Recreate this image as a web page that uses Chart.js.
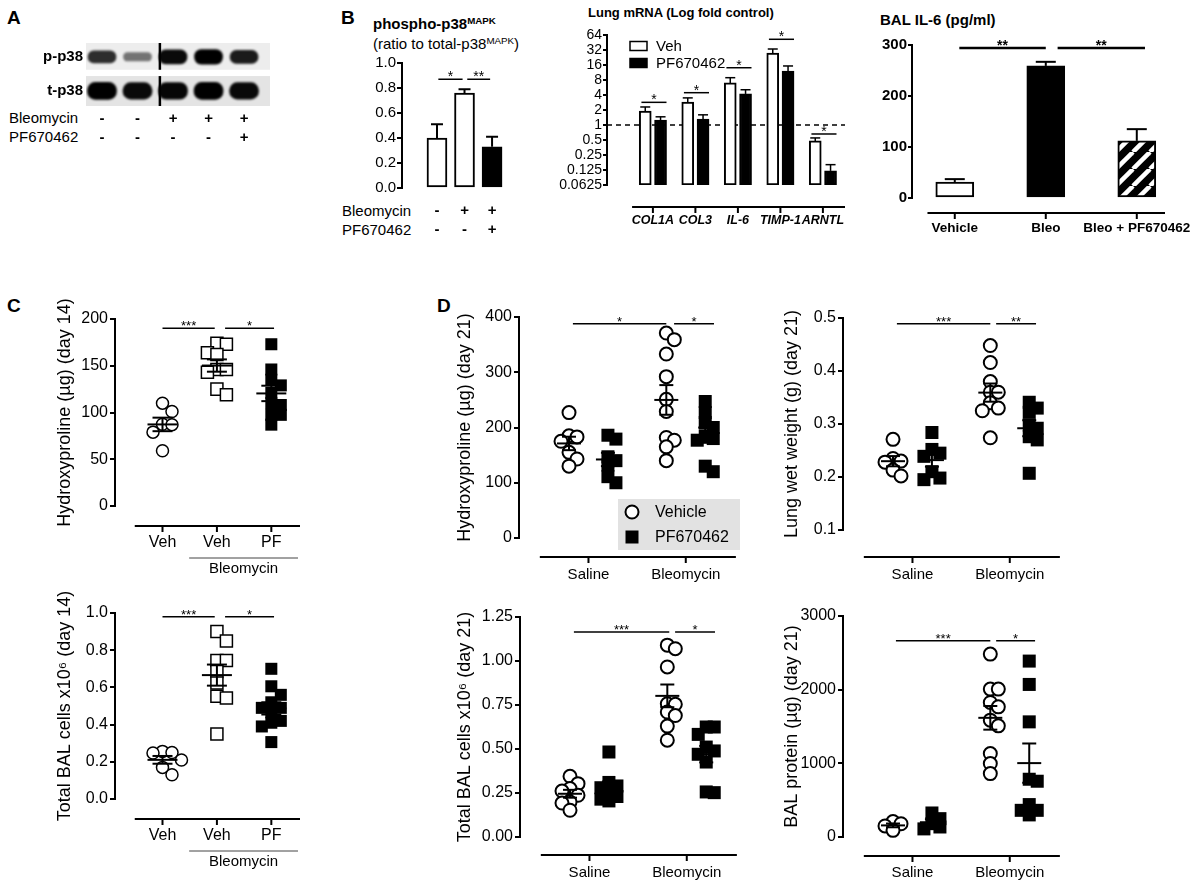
<!DOCTYPE html>
<html>
<head>
<meta charset="utf-8">
<title>p38 / PF670462 figure</title>
<script src="https://cdn.jsdelivr.net/npm/chart.js@4.4.1/dist/chart.umd.min.js"></script>
<style>
  body { margin: 0; background: #fff; }
  #fig { position: relative; width: 1200px; height: 887px; overflow: hidden; background: #fff;
         font-family: "Liberation Sans", Arial, Helvetica, sans-serif; color: #000; }
  #fig canvas { position: absolute; }
  .lab { position: absolute; white-space: nowrap; line-height: 18px; font-size: 15px; }
  .panel { position: absolute; font-weight: bold; font-size: 19px; }
  .ttl { position: absolute; white-space: nowrap; font-weight: bold; }
  sup { font-size: 65%; vertical-align: 0; position: relative; top: -0.5em; }
</style>
</head>
<body>
<div id="fig">
  <div class="panel" style="left:7px;top:7px">A</div>
  <div class="panel" style="left:341px;top:7px">B</div>
  <div class="panel" style="left:7px;top:295px">C</div>
  <div class="panel" style="left:437px;top:295px">D</div>

  <div class="lab" style="left:9px;top:109px">Bleomycin</div>
  <div class="lab" style="left:9px;top:128px">PF670462</div>
  <div class="lab" style="left:342px;top:202px">Bleomycin</div>
  <div class="lab" style="left:342px;top:221px">PF670462</div>

  <div class="ttl" style="left:373px;top:15px;font-size:15px">phospho-p38<sup>MAPK</sup></div>
  <div class="ttl" style="left:373px;top:35px;font-size:15px;font-weight:normal">(ratio to total-p38<sup>MAPK</sup>)</div>
  <div class="ttl" style="left:588px;top:5px;font-size:13px">Lung mRNA (Log fold control)</div>
  <div class="ttl" style="left:880px;top:11px;font-size:15px">BAL IL-6 (pg/ml)</div>

  <canvas id="cA"></canvas>
  <canvas id="cB1"></canvas>
  <canvas id="cB2"></canvas>
  <canvas id="cB3"></canvas>
  <canvas id="cC1"></canvas>
  <canvas id="cC2"></canvas>
  <canvas id="cD1"></canvas>
  <canvas id="cD2"></canvas>
  <canvas id="cD3"></canvas>
  <canvas id="cD4"></canvas>
</div>
<script>
// ---------- data ----------

// A: western blot, relative band density per lane
const laneBleo = ['-', '-', '+', '+', '+'];
const lanePF = ['-', '-', '-', '-', '+'];
const bandP = [0.75, 0.35, 0.95, 1.0, 0.85];
const bandT = [1.0, 0.95, 0.97, 1.0, 0.95];
const blotRows = ['t-p38', 'p-p38'];

// B: phospho-p38 ratio
const phosBleo = ['-', '+', '+'];
const phosPF = ['-', '-', '+'];
const phosMean = [0.40, 0.76, 0.33];
const phosSem = [0.11, 0.03, 0.08];

// B: lung mRNA (fold of control, log2 axis)
const genes = ['COL1A', 'COL3', 'IL-6', 'TIMP-1', 'ARNTL'];
const mrnaTicks = [0.0625, 0.125, 0.25, 0.5, 1, 2, 4, 8, 16, 32, 64];
const mrnaVeh = [1.9, 2.9, 7.0, 27.9, 0.48];
const mrnaVehSem = [0.4, 0.6, 1.9, 5.6, 0.07];
const mrnaPF = [1.26, 1.32, 4.2, 12.1, 0.12];
const mrnaPFSem = [0.2, 0.28, 0.9, 3.2, 0.04];

// B: BAL IL-6
const il6Groups = ['Vehicle', 'Bleo', 'Bleo + PF670462'];
const il6Mean = [31, 259, 112];
const il6Sem = [6, 8, 23];

// C: day 14
const cGroups = ['Veh', 'Veh', 'PF'];
const hypC_veh = [110, 101, 87.5, 87, 79, 59];
const hypC_bleoVeh = [174, 173, 164, 162, 146, 146, 143, 125, 119];
const hypC_bleoPF = [173, 146, 135, 129, 121, 110, 108, 97.5, 97.5, 87];
const balC_veh = [0.256, 0.25, 0.247, 0.21, 0.17, 0.13];
const balC_bleoVeh = [0.9, 0.85, 0.745, 0.745, 0.686, 0.624, 0.552, 0.543, 0.35];
const balC_bleoPF = [0.70, 0.606, 0.56, 0.52, 0.49, 0.49, 0.466, 0.42, 0.41, 0.39, 0.306];

// D: day 21
const dGroups = ['Saline', 'Bleomycin'];
const hypD_salVeh = [227, 185, 183, 175, 155, 143, 130];
const hypD_salPF = [186, 179, 147, 140, 132, 111, 100];
const hypD_bleoVeh = [371, 359, 333, 292, 251, 229, 182, 177, 165, 140];
const hypD_bleoPF = [247, 227, 209, 200, 185, 180, 177, 130, 120];
const wetD_salVeh = [0.271, 0.235, 0.23, 0.228, 0.213, 0.202];
const wetD_salPF = [0.284, 0.252, 0.245, 0.239, 0.21, 0.198, 0.195];
const wetD_bleoVeh = [0.448, 0.416, 0.38, 0.36, 0.36, 0.34, 0.33, 0.325, 0.274];
const wetD_bleoPF = [0.341, 0.33, 0.322, 0.298, 0.292, 0.276, 0.27, 0.207];
const balD_salVeh = [0.345, 0.303, 0.275, 0.261, 0.237, 0.199, 0.193, 0.152];
const balD_salPF = [0.483, 0.31, 0.29, 0.28, 0.26, 0.23, 0.215, 0.205];
const balD_bleoVeh = [1.09, 1.07, 0.966, 0.757, 0.754, 0.71, 0.69, 0.63, 0.55];
const balD_bleoPF = [0.625, 0.625, 0.583, 0.511, 0.489, 0.47, 0.426, 0.256, 0.252];
const protD_salVeh = [210, 180, 150, 90];
const protD_salPF = [326, 249, 181, 136, 110];
const protD_bleoVeh = [2483, 2008, 2008, 1826, 1767, 1586, 1509, 1133, 997, 861];
const protD_bleoPF = [2388, 2071, 1563, 784, 757, 440, 362, 362, 300];

// ---------- setup ----------
const FONT = '"Liberation Sans", Arial, Helvetica, sans-serif';
Chart.defaults.font.family = FONT;
Chart.defaults.color = '#000';
Chart.defaults.animation = false;
Chart.defaults.events = [];
Chart.defaults.plugins.legend.display = false;
Chart.defaults.plugins.tooltip.enabled = false;

const line = (ctx, x1, y1, x2, y2) => { ctx.beginPath(); ctx.moveTo(x1, y1); ctx.lineTo(x2, y2); ctx.stroke(); };

// put a canvas so that its plot area lands on L..R / T..B
function place(id, box) {
  const c = document.getElementById(id);
  const w = box.R - box.L + box.yW + box.right;
  const h = box.B - box.T + box.top + box.bottom;
  c.width = w; c.height = h;
  c.style.left = (box.L - box.yW) + 'px';
  c.style.top = (box.T - box.top) + 'px';
  c.style.width = w + 'px'; c.style.height = h + 'px';
  return c;
}

function layout(box) {
  return {padding: {top: box.top, right: box.right, left: 0, bottom: 0}};
}

function xScale(box, min, max, at, label, font, pad) {
  return {
    type: 'linear', min: min, max: max, position: 'bottom', offset: false,
    afterFit: s => { s.height = box.bottom; s.paddingLeft = 0; s.paddingRight = 0; },
    afterBuildTicks: s => { s.ticks = at.map(v => ({value: v})); },
    grid: {display: false, drawTicks: false, offset: false},
    border: {display: false},
    ticks: {autoSkip: false, maxRotation: 0, minRotation: 0, padding: pad, font: font, color: '#000',
      callback: v => label(Math.round(v))}
  };
}

function yScale(box, o) {
  const s = {
    type: o.type || 'linear', min: o.min, max: o.max, position: 'left',
    afterFit: sc => { sc.width = box.yW; sc.paddingTop = 0; sc.paddingBottom = 0; },
    border: {display: !o.noLine, color: '#000', width: 2},
    grid: {display: !o.noLine, drawOnChartArea: false, drawTicks: !o.noLine, tickLength: o.tl || 5, color: '#000', lineWidth: 2},
    ticks: {autoSkip: false, padding: o.pad === undefined ? 2 : o.pad, font: o.font || {size: 16}, color: '#000', callback: o.fmt},
    title: o.title ? {display: true, text: o.title, font: {size: 18}, padding: 0, color: '#000'} : {display: false}
  };
  if (o.step) s.ticks.stepSize = o.step;
  if (o.at) s.afterBuildTicks = sc => { sc.ticks = o.at.map(v => ({value: v})); };
  return s;
}

// spread close values sideways (beeswarm); offsets in pixels
function swarm(vals, pxPerUnit, size, spread) {
  const order = vals.map((v, i) => i).sort((a, b) => vals[b] - vals[a]);
  const placed = [], offs = [];
  order.forEach(i => {
    const py = vals[i] * pxPerUnit;
    let k = 0, dx = 0;
    while (true) {
      dx = (k % 2 ? 1 : -1) * Math.ceil(k / 2) * size * spread;
      const hit = placed.some(p => Math.hypot(p.x - dx, p.y - py) < size * spread);
      if (!hit || k >= 4) break;
      k++;
    }
    placed.push({x: dx, y: py});
    offs[i] = dx;
  });
  return offs;
}

function pts(groupVals, centers, pxY, pxX, size, spread) {
  const data = [], groups = [];
  groupVals.forEach((vals, gi) => {
    const offs = swarm(vals, pxY, size, spread);
    vals.forEach((v, i) => data.push({x: centers[gi] + offs[i] / pxX, y: v}));
    groups.push({cx: centers[gi], vals: vals});
  });
  return {data: data, groups: groups};
}

// extra drawing: detached x axis, brackets, error bars, mean +/- SEM, legends
function decor(conf) {
  return {
    id: 'decor',
    beforeDatasetsDraw(chart) {
      const ctx = chart.ctx, a = chart.chartArea, ys = chart.scales.y;
      ctx.save();
      (conf.strips || []).forEach(s => {
        const y0 = ys.getPixelForValue(s[0]), y1 = ys.getPixelForValue(s[1]);
        ctx.fillStyle = s[2];
        ctx.fillRect(a.left, y1, a.right - a.left, y0 - y1);
      });
      if (conf.dashAt !== undefined) {
        const y = ys.getPixelForValue(conf.dashAt);
        ctx.strokeStyle = '#000'; ctx.lineWidth = 1.5; ctx.setLineDash([5, 4]);
        line(ctx, a.left, y, a.right, y);
        ctx.setLineDash([]);
      }
      ctx.restore();
      if (conf.blur) { ctx.save(); ctx.filter = 'blur(' + conf.blur + 'px)'; }
    },
    afterDatasetsDraw(chart) {
      const ctx = chart.ctx, a = chart.chartArea, xs = chart.scales.x, ys = chart.scales.y;
      if (conf.blur) ctx.restore();
      ctx.save();
      ctx.strokeStyle = '#000'; ctx.fillStyle = '#000';

      if (conf.sep) {
        const x = xs.getPixelForValue(conf.sep.at);
        ctx.lineWidth = 2.5;
        conf.sep.rows.forEach(r => line(ctx, x, ys.getPixelForValue(r[0]), x, ys.getPixelForValue(r[1])));
      }

      if (conf.err) {
        ctx.lineWidth = conf.err.width;
        conf.err.sems.forEach((sems, di) => {
          const meta = chart.getDatasetMeta(di), ds = chart.data.datasets[di];
          meta.data.forEach((el, i) => {
            const yTop = ys.getPixelForValue(ds.data[i].y + sems[i]);
            line(ctx, el.x, el.y, el.x, yTop);
            line(ctx, el.x - conf.err.cap, yTop, el.x + conf.err.cap, yTop);
          });
        });
      }

      if (conf.mean) {
        ctx.lineWidth = 2;
        chart.data.datasets.forEach(ds => (ds.groups || []).forEach(g => {
          const n = g.vals.length;
          const m = g.vals.reduce((s, v) => s + v, 0) / n;
          const sd = Math.sqrt(g.vals.reduce((s, v) => s + (v - m) * (v - m), 0) / (n - 1));
          const se = sd / Math.sqrt(n);
          const cx = xs.getPixelForValue(g.cx);
          const ym = ys.getPixelForValue(m), y1 = ys.getPixelForValue(m + se), y2 = ys.getPixelForValue(m - se);
          line(ctx, cx - conf.mean.half, ym, cx + conf.mean.half, ym);
          line(ctx, cx, y1, cx, y2);
          line(ctx, cx - conf.mean.cap, y1, cx + conf.mean.cap, y1);
          line(ctx, cx - conf.mean.cap, y2, cx + conf.mean.cap, y2);
        }));
      }

      (conf.sig || []).forEach(s => {
        const x1 = xs.getPixelForValue(s.x1), x2 = xs.getPixelForValue(s.x2), y = ys.getPixelForValue(s.y);
        ctx.lineWidth = conf.sigWidth || 1.5;
        line(ctx, x1, y, x2, y);
        ctx.font = conf.sigFont || ('13px ' + FONT);
        ctx.textAlign = 'center'; ctx.textBaseline = 'alphabetic';
        ctx.fillText(s.text, (x1 + x2) / 2, y + 2);
      });

      if (conf.xline) {
        const L = conf.xline, y = a.bottom + L.gap;
        ctx.lineWidth = 2;
        line(ctx, xs.getPixelForValue(L.from), y, xs.getPixelForValue(L.to), y);
        xs.ticks.forEach(t => { const x = xs.getPixelForValue(t.value); line(ctx, x, y, x, y + 6); });
      }

      if (conf.under) {
        const U = conf.under, y = a.bottom + U.gap;
        ctx.lineWidth = 1; ctx.strokeStyle = '#444';
        line(ctx, xs.getPixelForValue(U.from), y, xs.getPixelForValue(U.to), y);
        ctx.font = '15px ' + FONT; ctx.textAlign = 'center'; ctx.textBaseline = 'middle';
        ctx.fillText(U.text, xs.getPixelForValue((U.from + U.to) / 2), y + U.textGap);
      }

      if (conf.legend) {
        const G = conf.legend, x0 = a.left + G.dx, y0 = a.top + G.dy;
        if (G.bg) { ctx.fillStyle = G.bg; ctx.fillRect(x0, y0, G.w, G.h); }
        chart.data.datasets.forEach((ds, i) => {
          const cy = y0 + G.first + i * G.step;
          ctx.strokeStyle = '#000'; ctx.fillStyle = ds.pointBackgroundColor || ds.backgroundColor;
          if (G.kind === 'box') {
            ctx.lineWidth = 1.5;
            ctx.fillRect(x0, cy - 4.5, 17, 9); ctx.strokeRect(x0, cy - 4.5, 17, 9);
          } else if (ds.pointStyle === 'circle') {
            ctx.lineWidth = 2;
            ctx.beginPath(); ctx.arc(x0 + G.mx, cy, 6.5, 0, Math.PI * 2); ctx.fill(); ctx.stroke();
          } else {
            ctx.fillRect(x0 + G.mx - 6.5, cy - 6.5, 13, 13);
          }
          ctx.fillStyle = '#000';
          ctx.font = G.font; ctx.textAlign = 'left'; ctx.textBaseline = 'middle';
          ctx.fillText(ds.label, x0 + G.tx, cy + 1);
        });
      }
      ctx.restore();
    }
  };
}

// ---------- A: blot ----------
const boxA = {L: 86, T: 43, R: 270, B: 106, yW: 48, top: 4, right: 6, bottom: 44};
const rowY = [0.48, 1.56];
new Chart(place('cA', boxA), {
  type: 'bar',
  data: {datasets: [
    {label: 'p-p38', grouped: false, barThickness: 28, borderRadius: 7, borderSkipped: false, borderWidth: 0,
     data: bandP.map((d, i) => ({x: i, y: [rowY[1] - (0.08 + 0.15 * d), rowY[1] + (0.08 + 0.15 * d)]})),
     backgroundColor: bandP.map(d => 'rgba(0,0,0,' + (0.25 + 0.75 * d) + ')')},
    {label: 't-p38', grouped: false, barThickness: 29, borderRadius: 8, borderSkipped: false, borderWidth: 0,
     data: bandT.map((d, i) => ({x: i, y: [rowY[0] - (0.1 + 0.17 * d), rowY[0] + (0.1 + 0.17 * d)]})),
     backgroundColor: bandT.map(d => 'rgba(0,0,0,' + (0.25 + 0.75 * d) + ')')}
  ]},
  options: {
    responsive: false, layout: layout(boxA),
    scales: {
      x: xScale(boxA, -0.45, 4.73, [0, 1, 2, 3, 4], i => [laneBleo[i], lanePF[i]],
                {size: 15, weight: 'bold', lineHeight: 1.27}, 3),
      y: yScale(boxA, {min: 0, max: 2, noLine: true, at: rowY, pad: 3,
                font: {size: 15, weight: 'bold'}, fmt: (v, i) => blotRows[i]})
    }
  },
  plugins: [decor({strips: [[1.15, 2, '#ededed'], [0, 0.95, '#e4e4e4']], blur: 1.2,
                   sep: {at: 1.63, rows: [[1.15, 2], [0, 0.95]]}})]
});

// ---------- B: phospho-p38 ----------
const boxB1 = {L: 402, T: 63, R: 505, B: 188, yW: 40, top: 12, right: 6, bottom: 55};
new Chart(place('cB1', boxB1), {
  type: 'bar',
  data: {datasets: [{
    data: phosMean.map((v, i) => ({x: i, y: v})),
    backgroundColor: ['#fff', '#fff', '#000'], borderColor: '#000', borderWidth: 2,
    borderSkipped: false, barThickness: 20, grouped: false
  }]},
  options: {
    responsive: false, layout: layout(boxB1),
    scales: {
      x: xScale(boxB1, -1.27, 2.47, [0, 1, 2], i => [phosBleo[i], phosPF[i]],
                {size: 15, weight: 'bold', lineHeight: 1.27}, 13),
      y: yScale(boxB1, {min: 0, max: 1, step: 0.2, tl: 5, pad: 1, font: {size: 15}, fmt: v => v.toFixed(1)})
    }
  },
  plugins: [decor({err: {sems: [phosSem], cap: 6, width: 2},
                   sigFont: '14px ' + FONT,
                   sig: [{x1: 0.05, x2: 0.93, y: 0.87, text: '*'}, {x1: 1.1, x2: 1.93, y: 0.87, text: '**'}]})]
});

// ---------- B: lung mRNA ----------
const boxB2 = {L: 607, T: 35, R: 845, B: 185, yW: 52, top: 14, right: 8, bottom: 50};
new Chart(place('cB2', boxB2), {
  type: 'bar',
  data: {datasets: [
    {label: 'Veh', data: genes.map((g, i) => ({x: i - 0.18, y: mrnaVeh[i]})), backgroundColor: '#fff',
     borderColor: '#000', borderWidth: 2, borderSkipped: false, barThickness: 12, grouped: false},
    {label: 'PF670462', data: genes.map((g, i) => ({x: i + 0.18, y: mrnaPF[i]})), backgroundColor: '#000',
     borderColor: '#000', borderWidth: 2, borderSkipped: false, barThickness: 12, grouped: false}
  ]},
  options: {
    responsive: false, layout: layout(boxB2),
    scales: {
      x: xScale(boxB2, -1.08, 4.52, [0, 1, 2, 3, 4], i => genes[i],
                {size: 12.5, weight: 'bold', style: 'italic'}, 28),
      y: yScale(boxB2, {type: 'logarithmic', min: 0.0625, max: 64, at: mrnaTicks, tl: 4, pad: 1,
                font: {size: 14}, fmt: v => String(v)})
    }
  },
  plugins: [decor({dashAt: 1, err: {sems: [mrnaVehSem, mrnaPFSem], cap: 5, width: 1.5},
                   sigFont: '14px ' + FONT,
                   sig: [{x1: -0.27, x2: 0.32, y: 2.85, text: '*'}, {x1: 0.73, x2: 1.32, y: 4.45, text: '*'},
                         {x1: 1.73, x2: 2.32, y: 14.1, text: '*'}, {x1: 2.73, x2: 3.32, y: 52.5, text: '*'},
                         {x1: 3.73, x2: 4.32, y: 0.66, text: '*'}],
                   xline: {gap: 22, from: -0.49, to: 4.52},
                   legend: {kind: 'box', dx: 23, dy: 11, first: 0, step: 17, tx: 26, font: '15px ' + FONT}})]
});

// ---------- B: BAL IL-6 ----------
const boxB3 = {L: 912, T: 45, R: 1165, B: 198, yW: 34, top: 12, right: 35, bottom: 45};
const cvB3 = place('cB3', boxB3);
const tile = document.createElement('canvas');
tile.width = 17; tile.height = 17;
const tg = tile.getContext('2d');
tg.fillStyle = '#000'; tg.fillRect(0, 0, 17, 17);
tg.strokeStyle = '#fff'; tg.lineWidth = 4.5;
[-17, 0, 17].forEach(o => line(tg, o, 17, o + 17, 0));
const stripes = cvB3.getContext('2d').createPattern(tile, 'repeat');
new Chart(cvB3, {
  type: 'bar',
  data: {datasets: [{
    data: il6Mean.map((v, i) => ({x: i, y: v})),
    backgroundColor: ['#fff', '#000', stripes], borderColor: '#000', borderWidth: 2,
    borderSkipped: false, barThickness: 38, grouped: false
  }]},
  options: {
    responsive: false, layout: layout(boxB3),
    scales: {
      x: xScale(boxB3, -0.47, 2.31, [0, 1, 2], i => il6Groups[i], {size: 13.5, weight: 'bold'}, 22),
      y: yScale(boxB3, {min: 0, max: 300, step: 100, tl: 4, pad: 1,
                font: {size: 15, weight: 'bold'}, fmt: v => String(v)})
    }
  },
  plugins: [decor({err: {sems: [il6Sem], cap: 10, width: 2}, sigWidth: 2.5,
                   sigFont: 'bold 14px ' + FONT,
                   sig: [{x1: 0.05, x2: 1.0, y: 294, text: '**'}, {x1: 1.13, x2: 2.09, y: 294, text: '**'}],
                   xline: {gap: 15, from: -0.3, to: 2.31}})]
});

// ---------- C: day 14 scatter ----------
function cChart(id, box, yMax, step, digits, title, vals, sig) {
  const pxY = (box.B - box.T) / yMax, pxX = 55;
  const a = pts([vals[0]], [0], pxY, pxX, 12, 0.8);
  const b = pts([vals[1]], [1], pxY, pxX, 12, 0.8);
  const c = pts([vals[2]], [2], pxY, pxX, 12, 0.8);
  new Chart(place(id, box), {
    type: 'scatter',
    data: {datasets: [
      {label: 'Veh', data: a.data, groups: a.groups, pointStyle: 'circle', pointRadius: 6,
       pointBorderWidth: 1.5, pointBorderColor: '#000', pointBackgroundColor: '#fff', clip: false},
      {label: 'Bleo Veh', data: b.data, groups: b.groups, pointStyle: 'rect', pointRadius: 8.5,
       pointBorderWidth: 1.5, pointBorderColor: '#000', pointBackgroundColor: '#fff', clip: false},
      {label: 'Bleo PF', data: c.data, groups: c.groups, pointStyle: 'rect', pointRadius: 8.5,
       pointBorderWidth: 0, pointBorderColor: '#000', pointBackgroundColor: '#000', clip: false}
    ]},
    options: {
      responsive: false, layout: layout(box),
      scales: {
        x: xScale(box, -0.873, 2.527, [0, 1, 2], i => cGroups[i], {size: 16}, 27),
        y: yScale(box, {min: 0, max: yMax, step: step, title: title, fmt: v => v.toFixed(digits)})
      }
    },
    plugins: [decor({mean: {half: 15, cap: 10}, sig: sig,
                     xline: {gap: 20, from: -0.51, to: 2.527},
                     under: {from: 0.49, to: 2.49, gap: 52, text: 'Bleomycin', textGap: 11}})]
  });
}

cChart('cC1', {L: 115, T: 319, R: 302, B: 506, yW: 61, top: 30, right: 8, bottom: 75},
  200, 50, 0, 'Hydroxyproline (µg) (day 14)', [hypC_veh, hypC_bleoVeh, hypC_bleoPF],
  [{x1: 0, x2: 0.96, y: 190, text: '***'}, {x1: 1.15, x2: 2.05, y: 190, text: '*'}]);
cChart('cC2', {L: 115, T: 613, R: 302, B: 799, yW: 61, top: 30, right: 8, bottom: 75},
  1, 0.2, 1, 'Total BAL cells x10⁶ (day 14)', [balC_veh, balC_bleoVeh, balC_bleoPF],
  [{x1: 0, x2: 0.96, y: 0.98, text: '***'}, {x1: 1.15, x2: 2.05, y: 0.98, text: '*'}]);

// ---------- D: day 21 scatter ----------
function dChart(id, box, yMin, yMax, step, digits, title, veh, pf, sig, pad, gap, legend) {
  const pxY = (box.B - box.T) / (yMax - yMin), pxX = 98;
  const v = pts(veh, [-0.2, 0.8], pxY, pxX, 13, 0.62);
  const p = pts(pf, [0.2, 1.2], pxY, pxX, 13, 0.62);
  new Chart(place(id, box), {
    type: 'scatter',
    data: {datasets: [
      {label: 'Vehicle', data: v.data, groups: v.groups, pointStyle: 'circle', pointRadius: 6.5,
       pointBorderWidth: 2, pointBorderColor: '#000', pointBackgroundColor: '#fff', clip: false},
      {label: 'PF670462', data: p.data, groups: p.groups, pointStyle: 'rect', pointRadius: 9.2,
       pointBorderWidth: 0, pointBorderColor: '#000', pointBackgroundColor: '#000', clip: false}
    ]},
    options: {
      responsive: false, layout: layout(box),
      scales: {
        x: xScale(box, -0.714, 1.545, [0, 1], i => dGroups[i], {size: 15}, pad),
        y: yScale(box, {min: yMin, max: yMax, step: step, title: title, fmt: t => t.toFixed(digits)})
      }
    },
    plugins: [decor({mean: {half: 12, cap: 7}, sig: sig, legend: legend,
                     xline: {gap: gap, from: -0.5, to: 1.515}})]
  });
}

dChart('cD1', {L: 519, T: 317, R: 740, B: 538, yW: 65, top: 20, right: 8, bottom: 50},
  0, 400, 100, 0, 'Hydroxyproline (µg) (day 21)', [hypD_salVeh, hypD_bleoVeh], [hypD_salPF, hypD_bleoPF],
  [{x1: -0.16, x2: 0.8, y: 388, text: '*'}, {x1: 0.88, x2: 1.29, y: 388, text: '*'}], 28, 19,
  {kind: 'marker', dx: 99, dy: 182, w: 122, h: 51, bg: '#e2e2e2', first: 13, step: 25, mx: 14, tx: 37,
   font: '16px ' + FONT});
dChart('cD2', {L: 843, T: 318, R: 1064, B: 530, yW: 62, top: 20, right: 8, bottom: 58},
  0.1, 0.5, 0.1, 1, 'Lung wet weight (g) (day 21)', [wetD_salVeh, wetD_bleoVeh], [wetD_salPF, wetD_bleoPF],
  [{x1: -0.16, x2: 0.8, y: 0.489, text: '***'}, {x1: 0.86, x2: 1.27, y: 0.489, text: '**'}], 36, 27, null);
dChart('cD3', {L: 520, T: 617, R: 741, B: 837, yW: 66, top: 20, right: 8, bottom: 48},
  0, 1.25, 0.25, 2, 'Total BAL cells x10⁶ (day 21)', [balD_salVeh, balD_bleoVeh], [balD_salPF, balD_bleoPF],
  [{x1: -0.16, x2: 0.82, y: 1.165, text: '***'}, {x1: 0.88, x2: 1.29, y: 1.165, text: '*'}], 27, 18, null);
dChart('cD4', {L: 843, T: 616, R: 1064, B: 837, yW: 62, top: 20, right: 8, bottom: 48},
  0, 3000, 1000, 0, 'BAL protein (µg) (day 21)', [protD_salVeh, protD_bleoVeh], [protD_salPF, protD_bleoPF],
  [{x1: -0.17, x2: 0.8, y: 2663, text: '***'}, {x1: 0.86, x2: 1.26, y: 2663, text: '*'}], 27, 19, null);
</script>
</body>
</html>
